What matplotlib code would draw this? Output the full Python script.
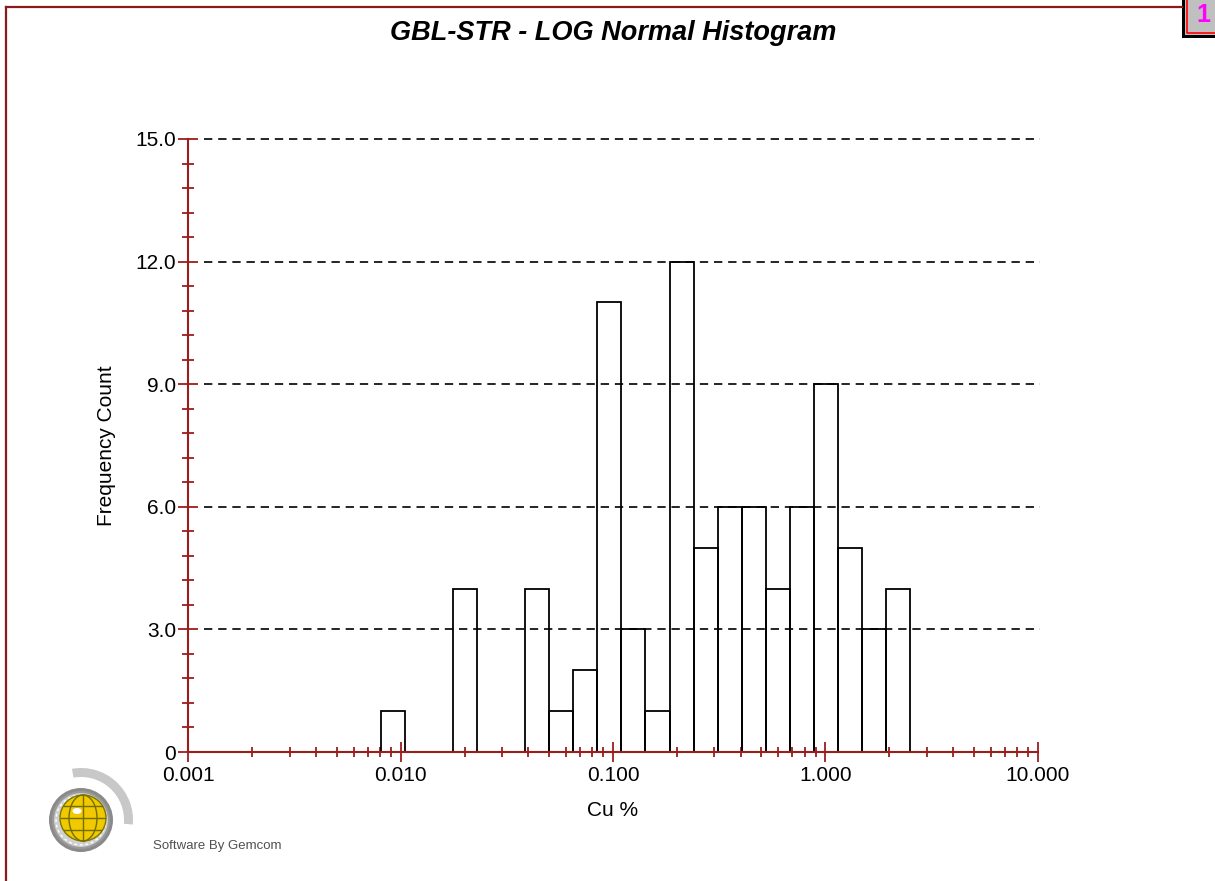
import numpy as np
import matplotlib
matplotlib.use("Agg")
import matplotlib.pyplot as plt
from matplotlib.patches import Rectangle, Circle, Wedge, Ellipse, Arc
from matplotlib.lines import Line2D
from matplotlib.ticker import LogLocator, FixedLocator, MultipleLocator, NullFormatter

plt.rcParams['font.family'] = ['Liberation Sans', 'DejaVu Sans']

# Datos del histograma (Cu %, escala logaritmica)
cu_min = 0.00805
cu_max = 2.51
counts = [1, 0, 0, 4, 0, 0, 4, 1, 2, 11, 3, 1, 12, 5, 6, 6, 4, 6, 9, 5, 3, 4]
x_ticks = [0.001, 0.01, 0.1, 1.0, 10.0]
x_labels = ["0.001", "0.010", "0.100", "1.000", "10.000"]
y_ticks = [0, 3, 6, 9, 12, 15]
y_labels = ["0", "3.0", "6.0", "9.0", "12.0", "15.0"]

W, H = 1215, 881
red = "#9e1c1c"

fig = plt.figure(figsize=(W / 100, H / 100), dpi=100)
fig.patch.set_facecolor("white")


def fx(px):
    return px / W


def fy(py):
    return 1 - py / H


ax = fig.add_axes([fx(188.3), fy(752), fx(1037.7) - fx(188.3), fy(139) - fy(752)])
ax.set_xscale("log")
ax.set_xlim(0.001, 10)
ax.set_ylim(0, 15)

edges = np.logspace(np.log10(cu_min), np.log10(cu_max), len(counts) + 1)
ax.bar(edges[:-1], counts, width=np.diff(edges), align="edge",
       fill=False, edgecolor="black", linewidth=1.3, zorder=2)

# lineas de la cuadricula
for yv in y_ticks[1:]:
    ax.plot([0.0185, 1.0025], [yv, yv], color="black", lw=1.2,
            dashes=(5, 3.5), transform=ax.get_yaxis_transform(),
            clip_on=False, zorder=1)

for s in ["top", "right"]:
    ax.spines[s].set_visible(False)
for s in ["left", "bottom"]:
    ax.spines[s].set_color(red)
    ax.spines[s].set_linewidth(1.5)
    ax.spines[s].set_zorder(3)

ax.xaxis.set_major_locator(FixedLocator(x_ticks))
ax.set_xticklabels(x_labels)
ax.xaxis.set_minor_locator(LogLocator(base=10, subs=np.arange(2, 10), numticks=20))
ax.xaxis.set_minor_formatter(NullFormatter())
ax.yaxis.set_major_locator(FixedLocator(y_ticks))
ax.set_yticklabels(y_labels)
ax.yaxis.set_minor_locator(MultipleLocator(0.6))

ax.tick_params(axis="both", which="major", direction="inout", length=13.7,
               width=1.3, color=red, labelsize=15, pad=2)
ax.tick_params(axis="x", which="major", pad=3.5)
ax.tick_params(axis="x", which="minor", direction="inout", length=6.5,
               width=1.3, color=red)
ax.tick_params(axis="y", which="minor", direction="inout", length=8,
               width=1.3, color=red)

ax.set_xlabel("Cu %", fontsize=15, labelpad=11)
ax.set_ylabel("Frequency Count", fontsize=15, labelpad=14)

fig.text(fx(613), fy(33), "GBL-STR - LOG Normal Histogram", fontsize=19.5,
         fontweight="bold", fontstyle="italic", ha="center", va="center")

# marco de la figura
fig.add_artist(Line2D([fx(6), fx(1182)], [fy(7), fy(7)], color="#8b1a1a", lw=1.6))
fig.add_artist(Line2D([fx(6), fx(6)], [fy(7), 0], color="#8b1a1a", lw=1.6))

# cuadro "1"
fig.add_artist(Rectangle((fx(1182), fy(38)), fx(33), fy(0) - fy(38),
                         facecolor="black", edgecolor="none"))
fig.add_artist(Rectangle((fx(1185), fy(35)), fx(30), fy(0) - fy(35),
                         facecolor="#c0c0c0", edgecolor="none"))
fig.add_artist(Line2D([fx(1187), fx(1187), fx(1215)], [fy(0), fy(33), fy(33)],
                      color="red", lw=1.2))
fig.text(fx(1203), fy(15), "1", color="magenta", fontsize=18, fontweight="bold",
         ha="center", va="center")

# logo
lax = fig.add_axes([fx(21), fy(880), fx(120), fy(760) - fy(880)])
lax.set_xlim(-60, 60)
lax.set_ylim(-60, 60)
lax.set_aspect("equal")
lax.axis("off")
lax.add_patch(Wedge((0, 0), 52, -5, 100, width=9, facecolor="#c8c8c8", edgecolor="none"))
lax.add_patch(Circle((0, 0), 32, facecolor="#8a8a8a", edgecolor="none"))
lax.add_patch(Circle((0, 0), 28, facecolor="#d0d0d0", edgecolor="#9a9a9a", lw=1.5))
lax.add_patch(Arc((0, 0), 50, 50, color="white", lw=1, ls=(0, (2, 2))))
lax.add_patch(Circle((2, 2), 23, facecolor="#f2c800", edgecolor="#7a7a00", lw=1))
lax.add_patch(Ellipse((-4, 9), 9, 6, facecolor="white", edgecolor="none"))
lax.plot([2, 2], [-21, 25], color="#707000", lw=1)
lax.plot([-20, 24], [2, 2], color="#707000", lw=1)
lax.plot([-17, 21], [14, 14], color="#707000", lw=1)
lax.plot([-17, 21], [-10, -10], color="#707000", lw=1)
lax.add_patch(Arc((2, 2), 28, 46, theta1=90, theta2=270, color="#707000", lw=1))
lax.add_patch(Arc((2, 2), 28, 46, theta1=-90, theta2=90, color="#707000", lw=1))

fig.text(fx(153), fy(846), "Software By Gemcom", fontsize=9.5, color="#505050",
         ha="left", va="center")

fig.savefig("out.png", dpi=100)
